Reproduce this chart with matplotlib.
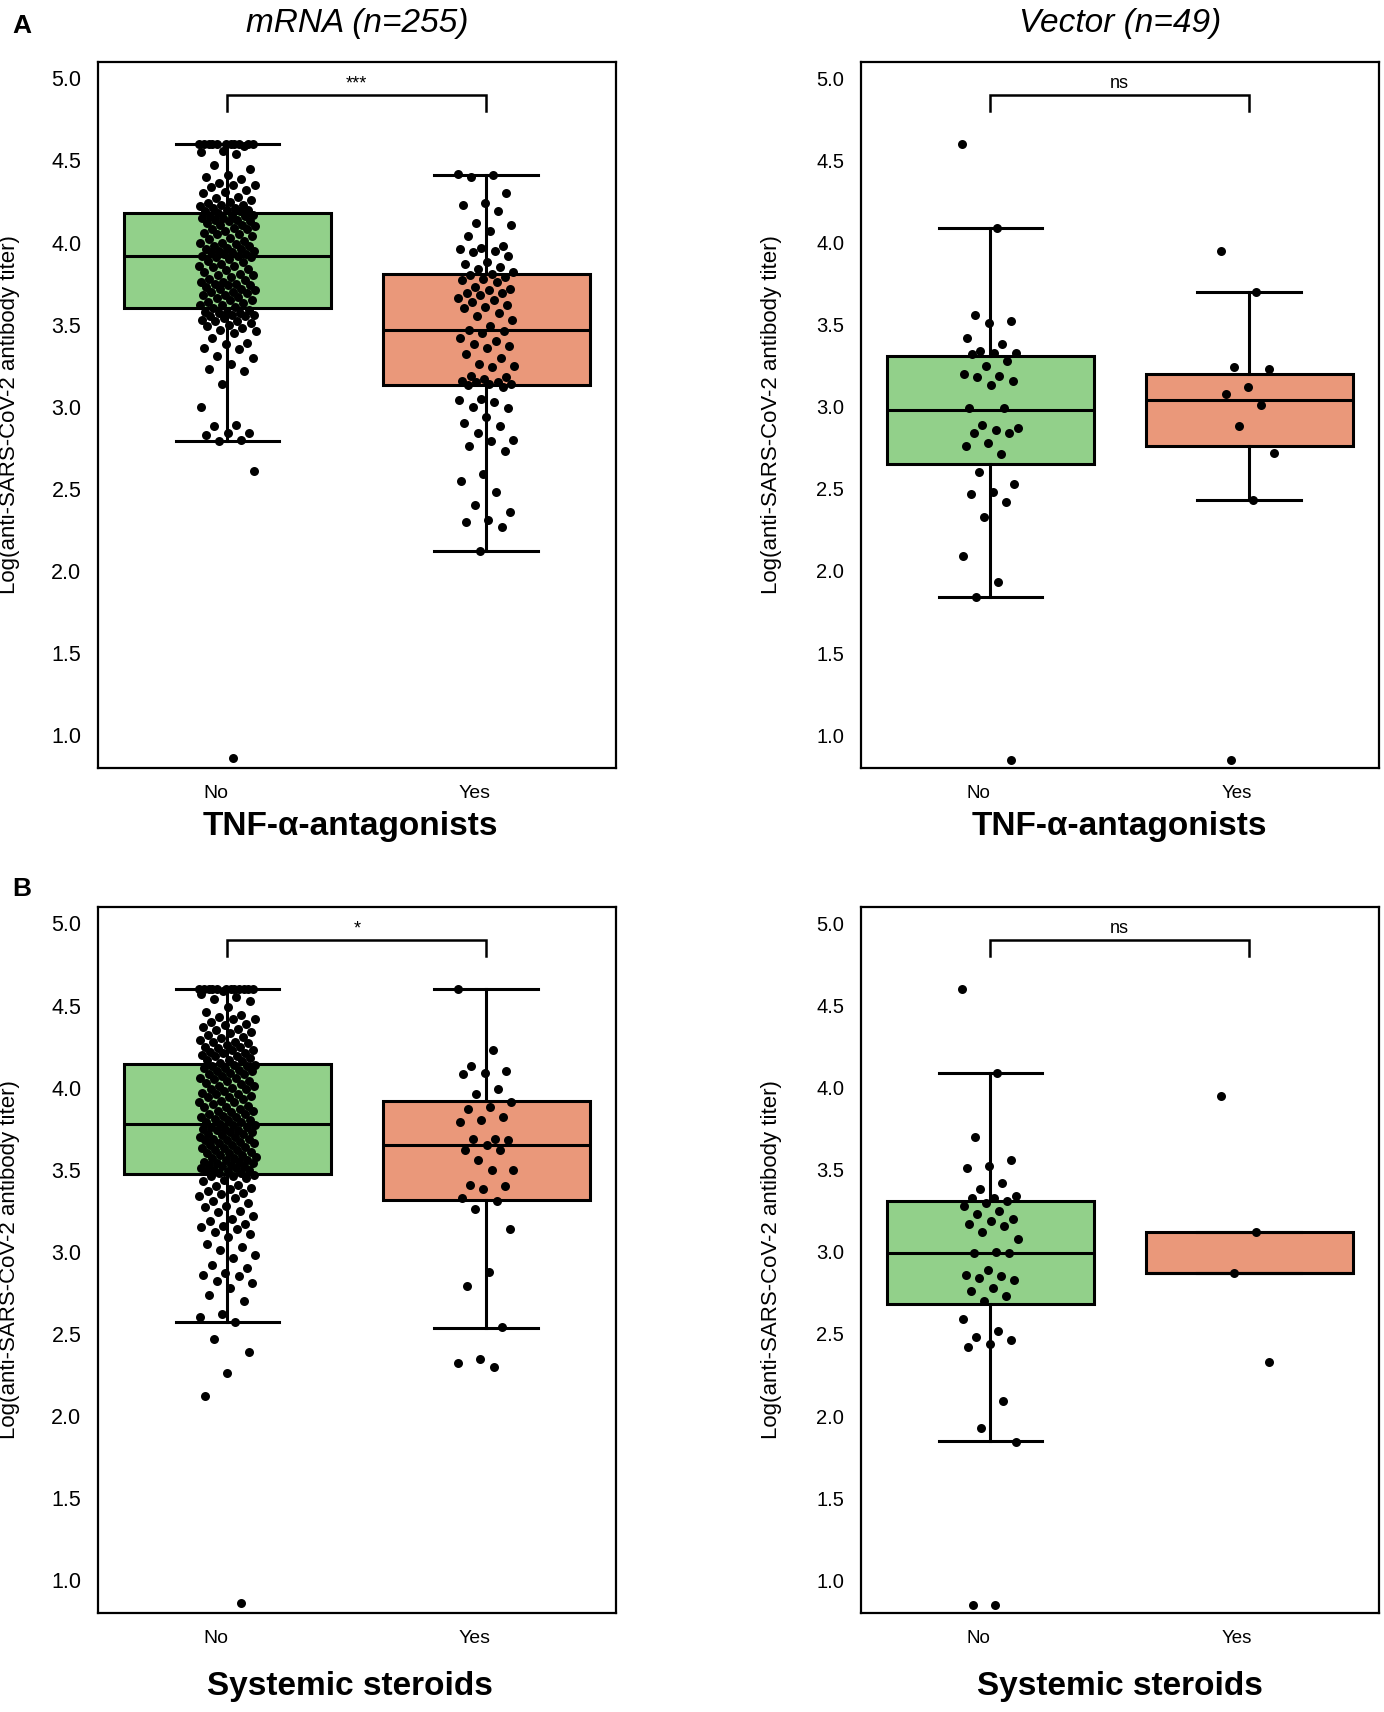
import matplotlib
matplotlib.use("Agg")
from matplotlib import pyplot as plt
from matplotlib import font_manager
import matplotlib.transforms as mtransforms
import numpy as np

# ---- data ----
groups = ["No", "Yes"]
col_titles = ["mRNA (n=255)", "Vector (n=49)"]
row_labels = ["TNF-\u03b1-antagonists", "Systemic steroids"]
panel_letters = ["A", "B"]
sig_labels = [["***", "ns"], ["*", "ns"]]

# box stats: (q1, median, q3, whisker low, whisker high) for No / Yes
tnf_mrna_box = [(3.60, 3.92, 4.18, 2.79, 4.60), (3.13, 3.47, 3.81, 2.12, 4.41)]
tnf_vec_box = [(2.65, 2.98, 3.31, 1.84, 4.09), (2.76, 3.04, 3.20, 2.43, 3.70)]
ster_mrna_box = [(3.476, 3.777, 4.146, 2.575, 4.60), (3.317, 3.648, 3.918, 2.535, 4.60)]
ster_vec_box = [(2.68, 2.99, 3.31, 1.845, 4.09), (2.87, 2.87, 3.12, 2.87, 3.12)]

tnf_mrna_no = [
    4.60, 4.60, 4.60, 4.60, 4.60, 4.60, 4.60, 4.60, 4.60, 4.60, 4.60,
    4.59, 4.56, 4.55, 4.54, 4.47, 4.45, 4.41, 4.40, 4.39, 4.36, 4.35, 4.35,
    4.34, 4.32, 4.31, 4.30, 4.28, 4.27, 4.26, 4.25, 4.24, 4.23, 4.23, 4.22,
    4.21, 4.21, 4.20, 4.20, 4.19, 4.19, 4.18,
    4.17, 4.17, 4.16, 4.16, 4.15, 4.15, 4.14, 4.14, 4.13, 4.13, 4.12, 4.11,
    4.11, 4.10, 4.09, 4.08, 4.08, 4.07, 4.06, 4.05, 4.05, 4.04, 4.03, 4.02,
    4.01, 4.00, 4.00, 3.99, 3.98, 3.98, 3.97, 3.96, 3.96, 3.95, 3.95, 3.94,
    3.94, 3.93, 3.93, 3.92, 3.92, 3.91,
    3.91, 3.90, 3.89, 3.88, 3.87, 3.86, 3.86, 3.85, 3.84, 3.83, 3.82, 3.81,
    3.80, 3.80, 3.79, 3.78, 3.77, 3.76, 3.76, 3.75, 3.75, 3.74, 3.74, 3.73,
    3.72, 3.72, 3.71, 3.70, 3.70, 3.69, 3.68, 3.68, 3.67, 3.66, 3.65, 3.65,
    3.64, 3.63, 3.62, 3.62, 3.61, 3.60,
    3.59, 3.58, 3.58, 3.57, 3.57, 3.56, 3.56, 3.55, 3.55, 3.54, 3.53, 3.52,
    3.52, 3.51, 3.50, 3.49, 3.48, 3.47, 3.46, 3.45, 3.42, 3.39, 3.38, 3.36,
    3.35, 3.31, 3.30, 3.26, 3.23, 3.22, 3.14, 3.00, 2.89, 2.88, 2.84, 2.84,
    2.83, 2.80, 2.79, 2.61, 0.86,
]
tnf_mrna_yes = [
    4.42, 4.41, 4.40, 4.30, 4.24, 4.23, 4.19, 4.12, 4.11, 4.07, 4.04, 3.98,
    3.97, 3.96, 3.95, 3.94, 3.92, 3.88, 3.87, 3.85, 3.84, 3.82,
    3.81, 3.80, 3.79, 3.78, 3.77, 3.76, 3.73, 3.72, 3.71, 3.69, 3.69, 3.68,
    3.66, 3.65, 3.64, 3.62, 3.61, 3.60, 3.57, 3.55, 3.53, 3.49,
    3.47, 3.46, 3.45, 3.42, 3.40, 3.38, 3.37, 3.36, 3.32, 3.30, 3.26, 3.25,
    3.24, 3.19, 3.18, 3.17, 3.16, 3.15, 3.15, 3.14, 3.14, 3.13,
    3.12, 3.05, 3.04, 3.03, 3.00, 2.99, 2.94, 2.90, 2.88, 2.84, 2.80, 2.79,
    2.76, 2.73, 2.59, 2.55, 2.48, 2.40, 2.36, 2.31, 2.30, 2.27, 2.12,
]
tnf_vec_no = [
    4.60, 4.09, 3.56, 3.52, 3.51, 3.42, 3.38, 3.34, 3.33, 3.33, 3.32, 3.28,
    3.25, 3.20, 3.19, 3.18, 3.16, 3.13, 2.99, 2.99, 2.89, 2.87, 2.86, 2.84,
    2.84, 2.78, 2.76, 2.71, 2.60, 2.53, 2.48, 2.47, 2.42, 2.33, 2.09, 1.93,
    1.84, 0.85,
]
tnf_vec_yes = [3.95, 3.70, 3.24, 3.23, 3.12, 3.08, 3.01, 2.88, 2.72, 2.43, 0.85]

ster_mrna_no = [
    4.60, 4.60, 4.60, 4.60, 4.60, 4.60, 4.60, 4.60, 4.60, 4.60, 4.60, 4.60,
    4.59, 4.57, 4.55, 4.54, 4.53, 4.49, 4.46, 4.44, 4.43, 4.42, 4.42, 4.40,
    4.39, 4.38, 4.37, 4.36, 4.35, 4.34, 4.33, 4.32, 4.31, 4.30, 4.29, 4.28,
    4.28, 4.27, 4.26, 4.25, 4.25, 4.24, 4.23, 4.23, 4.22, 4.21, 4.21, 4.20,
    4.19, 4.19, 4.18, 4.17, 4.17, 4.16, 4.15,
    4.14, 4.14, 4.13, 4.13, 4.12, 4.12, 4.11, 4.10, 4.10, 4.09, 4.08, 4.08,
    4.07, 4.06, 4.06, 4.05, 4.04, 4.04, 4.03, 4.02, 4.01, 4.01, 4.00, 3.99,
    3.99, 3.98, 3.97, 3.96, 3.96, 3.95, 3.94, 3.94, 3.93, 3.92, 3.91, 3.91,
    3.90, 3.89, 3.88, 3.88, 3.87, 3.86, 3.86, 3.85, 3.84, 3.84, 3.83, 3.82,
    3.82, 3.81, 3.80, 3.80, 3.79, 3.79, 3.78,
    3.77, 3.77, 3.76, 3.76, 3.75, 3.75, 3.74, 3.74, 3.73, 3.73, 3.72, 3.72,
    3.71, 3.70, 3.70, 3.69, 3.69, 3.68, 3.68, 3.67, 3.66, 3.66, 3.65, 3.65,
    3.64, 3.63, 3.63, 3.62, 3.62, 3.61, 3.60, 3.60, 3.59, 3.59, 3.58, 3.57,
    3.57, 3.56, 3.56, 3.55, 3.55, 3.54, 3.54, 3.53, 3.53, 3.52, 3.52, 3.51,
    3.51, 3.50, 3.50, 3.49, 3.49, 3.48, 3.48,
    3.47, 3.46, 3.46, 3.45, 3.44, 3.43, 3.41, 3.40, 3.39, 3.38, 3.37, 3.36,
    3.35, 3.34, 3.33, 3.31, 3.30, 3.28, 3.27, 3.25, 3.24, 3.22, 3.20, 3.19,
    3.17, 3.16, 3.15, 3.14, 3.12, 3.11, 3.09, 3.05, 3.03, 3.01, 2.98, 2.96,
    2.92, 2.90, 2.87, 2.86, 2.85, 2.82, 2.81, 2.78, 2.74, 2.70, 2.62, 2.60,
    2.57, 2.47, 2.39, 2.26, 2.12, 0.86,
]
ster_mrna_yes = [
    4.60, 4.23, 4.13, 4.10, 4.09, 4.08, 3.99, 3.96, 3.91, 3.88, 3.87, 3.82,
    3.80, 3.79, 3.69, 3.69, 3.68, 3.65, 3.62, 3.62, 3.56, 3.50, 3.50, 3.41,
    3.40, 3.38, 3.33, 3.31, 3.26, 3.14, 2.88, 2.79, 2.54, 2.35, 2.32, 2.30,
]
ster_vec_no = [
    4.60, 4.09, 3.70, 3.56, 3.52, 3.51, 3.42, 3.38, 3.34, 3.33, 3.33, 3.31,
    3.30, 3.28, 3.25, 3.23, 3.20, 3.19, 3.17, 3.16, 3.12, 3.08, 3.00, 2.99,
    2.99, 2.89, 2.86, 2.85, 2.84, 2.83, 2.78, 2.76, 2.73, 2.70, 2.59, 2.52,
    2.48, 2.46, 2.44, 2.42, 2.09, 1.93, 1.84, 0.85, 0.85,
]
ster_vec_yes = [3.95, 3.12, 2.87, 2.33]

# ---- styling ----
GREEN = "#92D08A"
ORANGE = "#EA987A"

names = {f.name for f in font_manager.fontManager.ttflist}
NARROW = "Liberation Sans Narrow" if "Liberation Sans Narrow" in names else None
REG = "Liberation Sans"

W, H = 1384, 1712
fig = plt.figure(figsize=(W / 100, H / 100), dpi=100)

panels = [
    [(tnf_mrna_box, tnf_mrna_no, tnf_mrna_yes), (tnf_vec_box, tnf_vec_no, tnf_vec_yes)],
    [(ster_mrna_box, ster_mrna_no, ster_mrna_yes), (ster_vec_box, ster_vec_no, ster_vec_yes)],
]
lefts = [0.0708, 0.6221]
bottoms = [0.5514, 0.0578]
aw, ah = 0.374, 0.4124


def jitter(n, width=0.11):
    # evenly spread horizontal offsets (golden-ratio sequence), strip-plot style
    k = np.arange(n)
    return ((k * 0.6180339887) % 1.0 - 0.5) * 2 * width


for r in range(2):
    for c in range(2):
        box, no_vals, yes_vals = panels[r][c]
        ax = fig.add_axes([lefts[c], bottoms[r], aw, ah])
        narrow = (c == 0 and NARROW is not None)
        tick_font = NARROW if narrow else REG

        stats = []
        for g, (q1, med, q3, lo, hi) in zip(groups, box):
            stats.append(dict(label=g, q1=q1, med=med, q3=q3,
                              whislo=lo, whishi=hi, fliers=[]))
        ax.bxp(stats, positions=[0, 1], widths=0.8, capwidths=0.4,
               showfliers=False, patch_artist=True,
               boxprops=dict(linewidth=2.2, edgecolor="black"),
               medianprops=dict(linewidth=2.2, color="black"),
               whiskerprops=dict(linewidth=2.2, color="black"),
               capprops=dict(linewidth=2.2, color="black"),
               zorder=2)
        for patch, col in zip(ax.patches, [GREEN, ORANGE]):
            patch.set_facecolor(col)

        for i, vals in enumerate([no_vals, yes_vals]):
            vals = np.asarray(vals)
            ax.scatter(i + jitter(len(vals)), vals, s=42, color="black",
                       linewidths=0, zorder=3)

        # significance bracket
        ax.plot([0, 0, 1, 1], [4.80, 4.90, 4.90, 4.80], color="black",
                lw=1.8, solid_joinstyle="miter", zorder=3)
        ax.text(0.5, 4.915, sig_labels[r][c], ha="center", va="bottom",
                fontsize=13, family=REG)

        ax.set_xlim(-0.5, 1.5)
        ax.set_ylim(0.8, 5.1)
        ax.set_yticks([1.0, 1.5, 2.0, 2.5, 3.0, 3.5, 4.0, 4.5, 5.0])
        ax.set_yticklabels([f"{v:.1f}" for v in ax.get_yticks()],
                           family=tick_font, fontsize=15.5 if c == 0 else 14.5)
        ax.set_xticks([0, 1])
        ax.set_xticklabels(groups, family=tick_font, fontsize=14 if c == 0 else 13.5)
        ax.tick_params(axis="both", length=0)
        ax.tick_params(axis="y", pad=12)
        ax.tick_params(axis="x", pad=12)
        shift = mtransforms.ScaledTranslation(-0.12, 0, fig.dpi_scale_trans)
        for lab in ax.get_xticklabels():
            lab.set_transform(lab.get_transform() + shift)
        for sp in ax.spines.values():
            sp.set_linewidth(1.6)

        ax.set_ylabel("Log(anti-SARS-CoV-2 antibody titer)", family=REG,
                      fontsize=16)
        ax.yaxis.set_label_coords(-0.150 if c == 0 else -0.152, 0.5)

        # group label under the axis
        xlab_y = -0.083 if r == 0 else -0.104
        xlab_x = 0.487 if c == 0 else 0.5
        if narrow:
            ax.text(xlab_x, xlab_y, row_labels[r], transform=ax.transAxes,
                    ha="center", va="center", fontsize=27, fontweight="bold",
                    family=NARROW)
        else:
            ax.text(xlab_x, xlab_y, row_labels[r], transform=ax.transAxes,
                    ha="center", va="center", fontsize=24, fontweight="bold",
                    family=REG)

        if r == 0:
            if narrow:
                ax.text(0.5, 1.055, col_titles[c], transform=ax.transAxes,
                        ha="center", va="center", fontsize=28, style="italic",
                        family=NARROW)
            else:
                ax.text(0.5, 1.055, col_titles[c], transform=ax.transAxes,
                        ha="center", va="center", fontsize=24, style="italic",
                        family=REG)

# panel letters
fig.text(0.009, 0.985, panel_letters[0], fontsize=19, fontweight="bold",
         family=REG, ha="left", va="center")
fig.text(0.009, 0.481, panel_letters[1], fontsize=19, fontweight="bold",
         family=REG, ha="left", va="center")

fig.savefig("out.png", dpi=100, facecolor="white")
